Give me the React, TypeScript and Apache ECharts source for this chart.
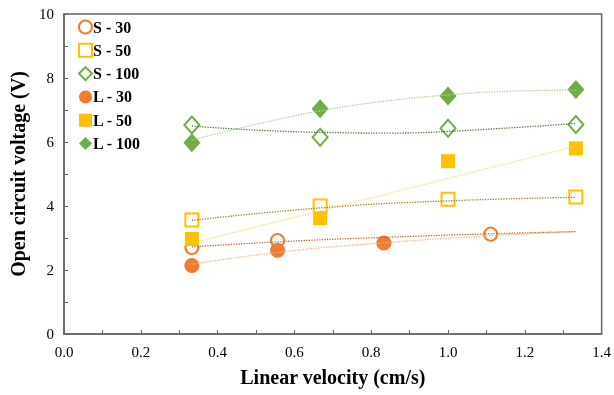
import React, { useEffect, useRef } from "react";
import * as echarts from "echarts";

const legendNames = ["S - 30", "S - 50", "S - 100", "L - 30", "L - 50", "L - 100"];

const s30 = [[0.333, 2.7], [0.556, 2.92], [1.111, 3.12]];
const s50 = [[0.333, 3.56], [0.667, 4.0], [1.0, 4.21], [1.333, 4.28]];
const s100 = [[0.333, 6.53], [0.667, 6.15], [1.0, 6.43], [1.333, 6.55]];
const l30 = [[0.333, 2.14], [0.556, 2.62], [0.833, 2.84]];
const l50 = [[0.333, 2.97], [0.667, 3.62], [1.0, 5.4], [1.333, 5.8]];
const l100 = [[0.333, 5.98], [0.667, 7.04], [1.0, 7.44], [1.333, 7.64]];

// trendlines
const tS30 = [[0.333, 2.72], [0.556, 2.88], [0.833, 3.02], [1.111, 3.13], [1.333, 3.2]];
const tL30 = [[0.333, 2.18], [0.556, 2.55], [0.833, 2.85], [1.111, 3.07], [1.333, 3.2]];
const tS50 = [[0.333, 3.55], [0.667, 3.94], [1.0, 4.16], [1.333, 4.27]];
const tL50 = [[0.333, 2.84], [1.333, 5.87]];
const tS100 = [[0.333, 6.5], [0.667, 6.3], [0.85, 6.28], [1.0, 6.33], [1.333, 6.58]];
const tL100 = [[0.333, 6.06], [0.5, 6.55], [0.667, 6.97], [0.833, 7.27], [1.0, 7.47], [1.167, 7.59], [1.333, 7.62]];

const ORANGE = "#ED7D31";
const YELLOW = "#FFC000";
const GREEN = "#70AD47";
const FONT = "Liberation Serif";

export default function App() {
  const ref = useRef<HTMLDivElement>(null);
  useEffect(() => {
    if (!ref.current) return;
    const chart = echarts.init(ref.current, null, { renderer: "svg" });
    const open = (color: string) => ({ color: "#fff", borderColor: color, borderWidth: 2, opacity: 1 });
    const filled = (color: string) => ({ color, borderColor: color, borderWidth: 0, opacity: 1 });
    const trend = (name: string, data: number[][], color: string) => ({
      name,
      type: "line",
      data,
      smooth: true,
      showSymbol: false,
      symbol: "none",
      z: 5,
      lineStyle: { type: "dotted", width: 1.3, color },
      silent: true,
    });
    chart.setOption({
      animation: false,
      textStyle: { fontFamily: FONT },
      grid: {
        left: 62,
        top: 14,
        right: 7,
        bottom: 61,
        show: true,
        borderColor: "#666",
        borderWidth: 1.5,
        containLabel: false,
      },
      legend: {
        data: legendNames,
        orient: "vertical",
        left: 73,
        top: 14,
        itemWidth: 13,
        itemHeight: 13,
        itemGap: 7.3,
        textStyle: { fontFamily: FONT, fontSize: 16, fontWeight: "bold", color: "#000", padding: [0, 0, 0, -4] },
      },
      xAxis: {
        type: "value",
        min: 0,
        max: 1.4,
        interval: 0.2,
        name: "Linear velocity (cm/s)",
        nameLocation: "middle",
        nameGap: 33,
        nameTextStyle: { fontFamily: FONT, fontSize: 20, fontWeight: "bold", color: "#000" },
        axisLine: { lineStyle: { color: "#666", width: 1.5 } },
        axisTick: { inside: true, length: 4, lineStyle: { color: "#666" } },
        minorTick: { show: true, splitNumber: 2, length: 4, lineStyle: { color: "#666" } },
        splitLine: { show: false },
        axisLabel: { formatter: (v: number) => v.toFixed(1), fontFamily: FONT, fontSize: 15, color: "#000", margin: 10 },
      },
      yAxis: {
        type: "value",
        min: 0,
        max: 10,
        interval: 2,
        name: "Open circuit voltage (V)",
        nameLocation: "middle",
        nameGap: 36,
        nameTextStyle: { fontFamily: FONT, fontSize: 20, fontWeight: "bold", color: "#000" },
        axisLine: { lineStyle: { color: "#666", width: 1.5 } },
        axisTick: { inside: true, length: 4, lineStyle: { color: "#666" } },
        minorTick: { show: true, splitNumber: 2, length: 4, lineStyle: { color: "#666" } },
        splitLine: { show: false },
        axisLabel: { fontFamily: FONT, fontSize: 15, color: "#000", margin: 10 },
      },
      series: [
        { name: "S - 30", type: "scatter", data: s30, symbol: "circle", symbolSize: 13, itemStyle: open(ORANGE), z: 3 },
        { name: "S - 50", type: "scatter", data: s50, symbol: "rect", symbolSize: 13, itemStyle: open(YELLOW), z: 3 },
        { name: "S - 100", type: "scatter", data: s100, symbol: "diamond", symbolSize: [15, 17], itemStyle: open(GREEN), z: 3 },
        { name: "L - 30", type: "scatter", data: l30, symbol: "circle", symbolSize: 15, itemStyle: filled(ORANGE), z: 3 },
        { name: "L - 50", type: "scatter", data: l50, symbol: "rect", symbolSize: 14, itemStyle: filled(YELLOW), z: 3 },
        { name: "L - 100", type: "scatter", data: l100, symbol: "diamond", symbolSize: [17, 19], itemStyle: filled(GREEN), z: 3 },
        trend("trend S - 30", tS30, "#C0652A"),
        trend("trend L - 30", tL30, "#F4B183"),
        trend("trend S - 50", tS50, "#A08020"),
        trend("trend L - 50", tL50, "#FFD966"),
        trend("trend S - 100", tS100, "#4E7A32"),
        trend("trend L - 100", tL100, "#A9D18E"),
      ],
    });
    return () => chart.dispose();
  }, []);
  return <div ref={ref} style={{ position: "fixed", left: 0, top: 0, width: 614, height: 395 }} />;
}
